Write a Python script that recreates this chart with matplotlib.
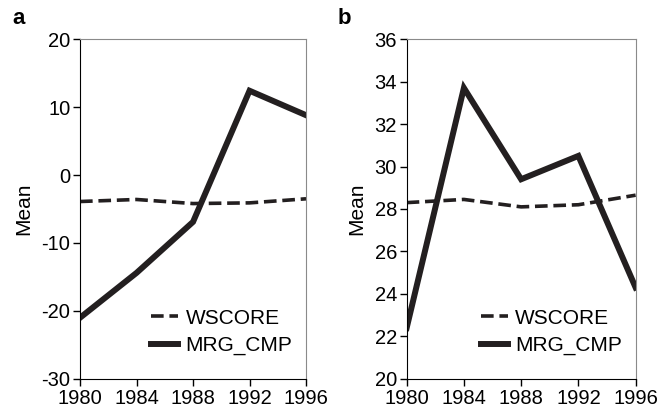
import matplotlib.pyplot as plt

plt.rcParams['font.family'] = ['Liberation Sans', 'DejaVu Sans']
plt.rcParams['axes.unicode_minus'] = False

years = [1980, 1984, 1988, 1992, 1996]

# panel a
wscore_a = [-3.9, -3.6, -4.2, -4.1, -3.5]
mrg_a = [-21.0, -14.4, -6.9, 12.4, 8.8]

# panel b
wscore_b = [28.3, 28.45, 28.1, 28.2, 28.65]
mrg_b = [22.4, 33.7, 29.4, 30.5, 24.3]

fig = plt.figure(figsize=(6.58, 4.07), dpi=100)
ax_a = fig.add_axes([0.1216, 0.069, 0.3435, 0.835])
ax_b = fig.add_axes([0.618, 0.069, 0.348, 0.835])

line_col = '#231f20'

def draw(ax, ws, mrg, ylim, yticks, letter):
    ax.plot(years, ws, color=line_col, lw=2.6, ls=(0, (3.5, 1.6)), label='WSCORE')
    ax.plot(years, mrg, color=line_col, lw=4.3, label='MRG_CMP', solid_joinstyle='miter')
    ax.set_xlim(1980, 1996)
    ax.set_ylim(*ylim)
    ax.set_xticks(years)
    ax.set_yticks(yticks)
    ax.tick_params(direction='out', length=5, width=1, labelsize=14.5)
    ax.tick_params(axis='x', pad=2)
    ax.tick_params(axis='y', pad=2)
    for s in ['top', 'right']:
        ax.spines[s].set_color('#8a8a8a')
    for s in ['left', 'bottom']:
        ax.spines[s].set_color('black')
    ax.set_ylabel('Mean', fontsize=15, labelpad=6)
    ax.legend(loc='lower right', frameon=False, fontsize=15, handlelength=1.3,
              handletextpad=0.35, labelspacing=0.4, borderaxespad=0.25,
              bbox_to_anchor=(1.0, 0.03))
    ax.text(-0.3, 1.09, letter, transform=ax.transAxes, fontsize=16,
            fontweight='bold', va='top')

draw(ax_a, wscore_a, mrg_a, (-30, 20), range(-30, 21, 10), 'a')
draw(ax_b, wscore_b, mrg_b, (20, 36), range(20, 37, 2), 'b')

fig.savefig('out.png', dpi=100)
